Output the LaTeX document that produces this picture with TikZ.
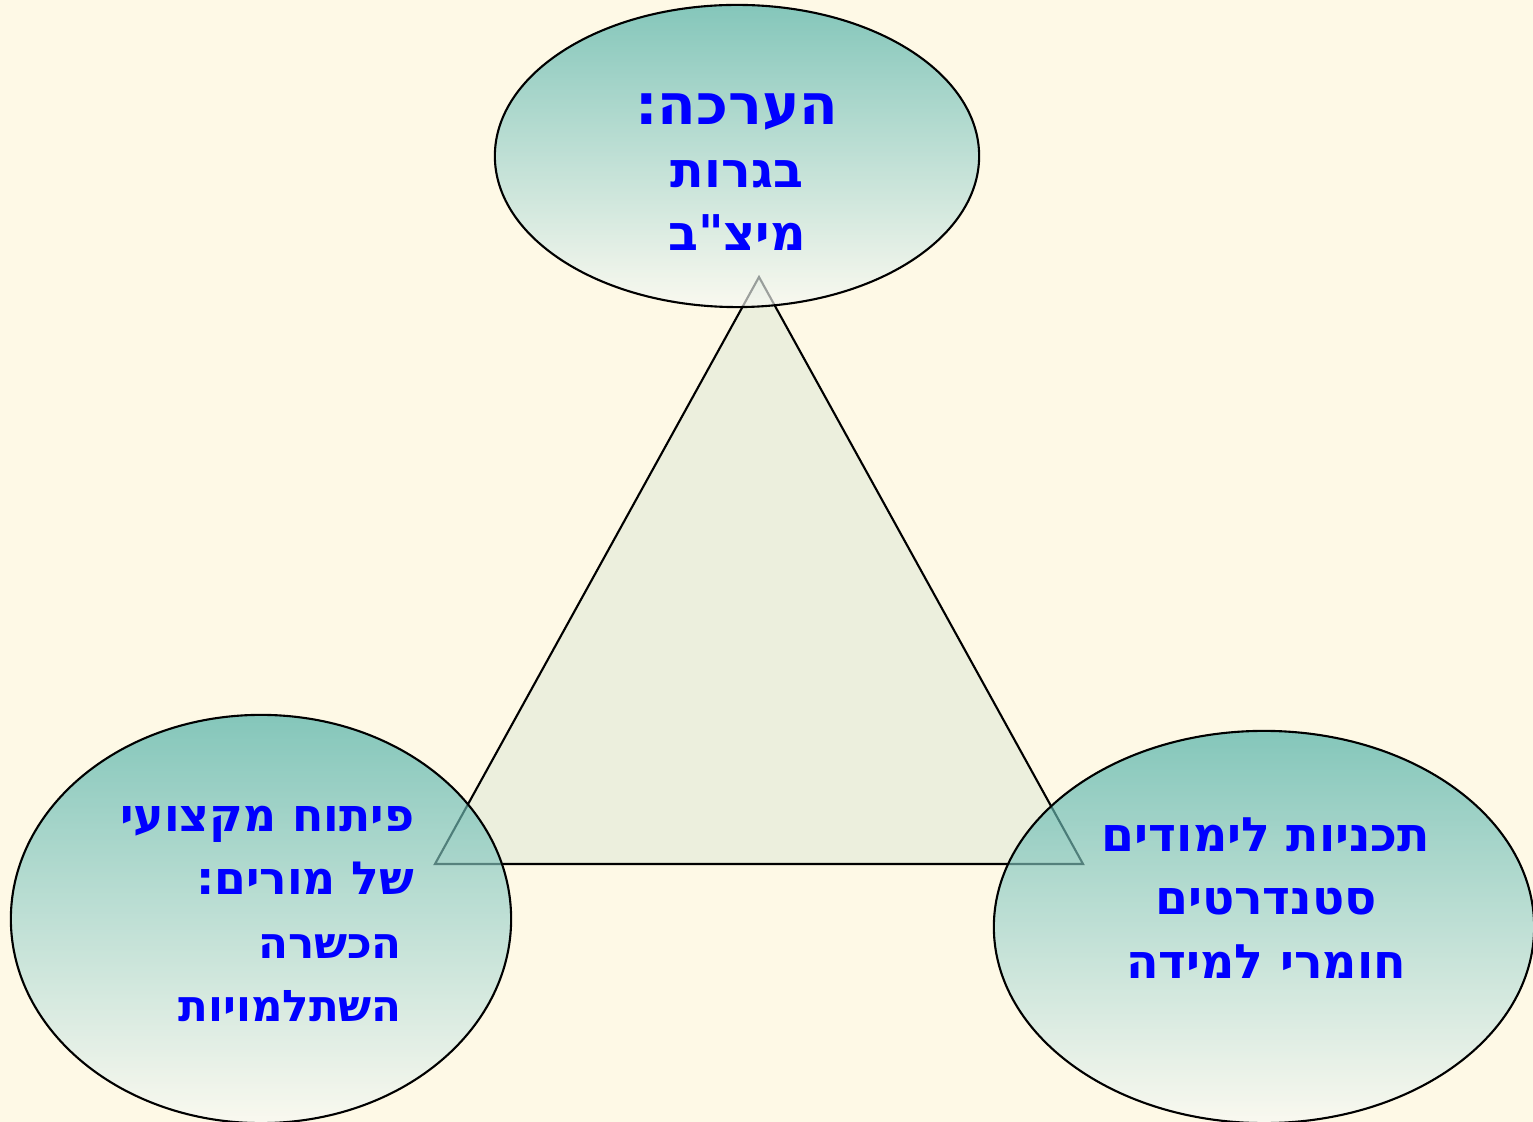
\documentclass[tikz,border=0pt]{standalone}
\usepackage{fontspec}
\usetikzlibrary{shapes.geometric}
\newfontfamily\hebfont[Script=Hebrew]{DejaVu Sans}
\TeXXeTstate=1
\definecolor{bgcream}{HTML}{FEF9E6}
\definecolor{trifill}{HTML}{ECEFDD}
\definecolor{tealtop}{HTML}{44ACA4}
\definecolor{tealmid}{HTML}{C9DCD3}
\definecolor{tealbot}{HTML}{F8F9F5}
\definecolor{hebblue}{HTML}{0000FF}

\begin{document}
\begin{tikzpicture}[
  x=0.01cm, y=-0.01cm,
  bubble/.style={ellipse, draw=black, line width=0.6pt, top color=tealtop,
                 middle color=tealmid, bottom color=tealbot,
                 fill opacity=0.65, inner sep=0pt},
  lbl/.style={text=hebblue, inner sep=0pt,
              font=\hebfont\bfseries\fontsize{13.5}{18}\selectfont},
  tri/.style={draw=black, line width=0.6pt, fill=trifill}
]
  % Fond
  \fill[bgcream] (0,0) rectangle (1533,1122);
  \useasboundingbox (0,0) rectangle (1533,1122);

  % Triangle
  \coordinate (apex) at (759,277);
  \coordinate (bl) at (435,864);
  \coordinate (br) at (1083,864);
  \draw[tri] (apex) -- (bl) -- (br) -- cycle;

  % Ellipses
  \node[bubble, minimum width=4.84cm, minimum height=3.02cm] (eval) at (737,156) {};
  \node[bubble, minimum width=5.00cm, minimum height=4.08cm] (prof) at (261,919) {};
  \node[bubble, minimum width=5.40cm, minimum height=3.92cm] (curr) at (1264,927) {};

  % Textes
  \node[lbl, align=center] (evaltxt) at (737,172)
    {{\fontsize{16}{19}\selectfont\beginR הערכה:\endR}\\
     {\fontsize{14}{19}\selectfont\beginR בגרות\endR}\\
     {\fontsize{14}{19}\selectfont\beginR מיצ"ב\endR}};
  \node[lbl, align=right, anchor=east] (proftxt) at (415,914)
    {{\fontsize{13}{17.5}\selectfont\beginR פיתוח מקצועי\endR}\\
     {\fontsize{13}{17.5}\selectfont\beginR של מורים:\endR}\\
     {\fontsize{12.4}{17}\selectfont\beginR הכשרה\endR\kern3.5pt}\\
     {\fontsize{12.4}{16.5}\selectfont\beginR השתלמויות\endR\kern3.5pt}};
  \node[lbl, align=center] (currtxt) at (1266,898)
    {\beginR תכניות לימודים\endR\\
     \beginR סטנדרטים\endR\\
     \beginR חומרי למידה\endR};
\end{tikzpicture}
\end{document}
